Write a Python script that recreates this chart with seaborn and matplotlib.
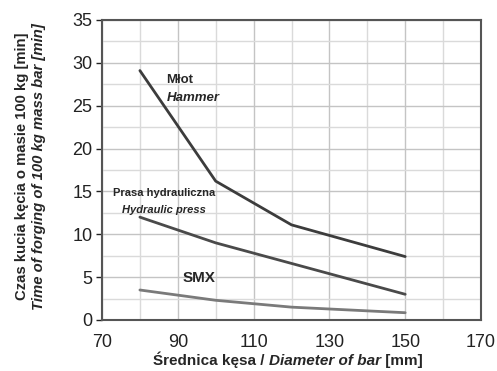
import matplotlib
matplotlib.use("Agg")
import matplotlib.pyplot as plt
import numpy as np
import pandas as pd
import seaborn as sns

# data
diameter = [80, 100, 120, 150]
hammer = [29.1, 16.2, 11.1, 7.4]
hydraulic_press = [12.0, 9.0, 6.6, 3.0]
smx = [3.5, 2.3, 1.5, 0.85]

x_ticks = [70, 90, 110, 130, 150, 170]
y_ticks = [0, 5, 10, 15, 20, 25, 30, 35]

df = pd.DataFrame({
    "diameter": diameter * 3,
    "time": hammer + hydraulic_press + smx,
    "machine": ["hammer"] * 4 + ["press"] * 4 + ["smx"] * 4,
})

sns.set_theme(style="white")
plt.rcParams["font.family"] = ["Liberation Sans", "DejaVu Sans"]

fig = plt.figure(figsize=(4.97, 3.71), dpi=100)
ax = fig.add_axes([102 / 497, 51 / 371, 379 / 497, 300 / 371])

sns.lineplot(data=df, x="diameter", y="time", hue="machine",
             palette={"hammer": "#3c3c3c", "press": "#4a4a4a", "smx": "#7a7a7a"},
             linewidth=2, legend=False, ax=ax)

ax.set_xlim(70, 170)
ax.set_ylim(0, 35)
ax.set_xticks(x_ticks)
ax.set_yticks(y_ticks)
ax.set_xticks(np.arange(80, 170, 20), minor=True)
ax.set_yticks(np.arange(2.5, 35, 5), minor=True)
ax.grid(True, which="major", color="#c4c4c4", linewidth=1)
ax.grid(True, which="minor", color="#dadada", linewidth=1)
ax.set_axisbelow(True)
ax.tick_params(axis="both", which="major", labelsize=13, colors="#222222",
               length=4, width=1, direction="out", left=True, bottom=False, pad=3)
ax.tick_params(axis="x", pad=6)
ax.tick_params(which="minor", length=0)
for s in ax.spines.values():
    s.set_color("#555555")
    s.set_linewidth(1.5)
ax.set_xlabel("")
ax.set_ylabel("")

# curve labels
ax.text(87, 28.0, "Młot", fontsize=9.5, fontweight="bold", ha="left", va="center")
ax.text(87, 25.9, "Hammer", fontsize=9.5, fontweight="bold", style="italic",
        ha="left", va="center")
ax.text(86.3, 14.8, "Prasa hydrauliczna", fontsize=8, fontweight="bold",
        ha="center", va="center")
ax.text(86.3, 12.8, "Hydraulic press", fontsize=8, fontweight="bold",
        style="italic", ha="center", va="center")
ax.text(95.5, 4.9, "SMX", fontsize=11, fontweight="bold", ha="center", va="center")

# y axis title in two lines
ax.text(-0.211, 0.513, "Czas kucia kęcia o masie 100 kg [min]", transform=ax.transAxes,
        rotation=90, fontsize=10.7, fontweight="bold", ha="center", va="center")
ax.text(-0.166, 0.513, "Time of forging of 100 kg mass bar [min]", transform=ax.transAxes,
        rotation=90, fontsize=10.7, fontweight="bold", style="italic",
        ha="center", va="center")

# x axis title with mixed styles
t1 = fig.text(153 / 497, 1 - 365 / 371, "Średnica kęsa / ", fontsize=11,
              fontweight="bold", ha="left", va="baseline")
t2 = ax.annotate("Diameter of bar", xy=(1, 0), xycoords=t1, fontsize=11,
                 fontweight="bold", style="italic", ha="left", va="bottom")
ax.annotate(" [mm]", xy=(1, 0), xycoords=t2, fontsize=11, fontweight="bold",
            ha="left", va="bottom")

fig.savefig("out.png", dpi=100)
